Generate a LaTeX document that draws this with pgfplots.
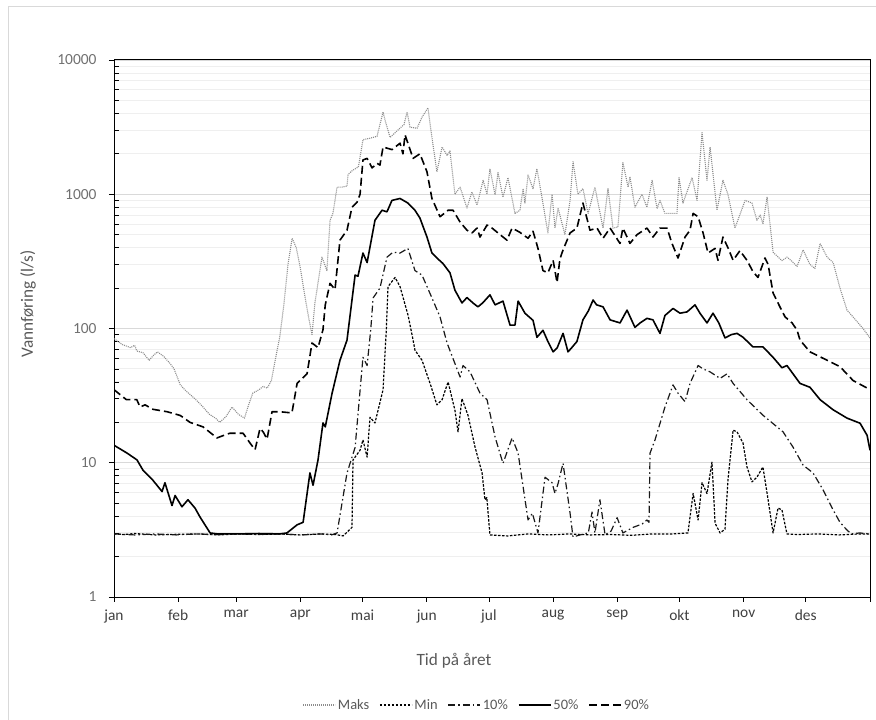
\documentclass[border=0pt]{standalone}
\usepackage{pgfplots}
\pgfplotsset{compat=1.18}
\usepackage{fontspec}
\setmainfont{Carlito}

\definecolor{ylabgray}{HTML}{707070}
\definecolor{xlabgray}{HTML}{404040}
\definecolor{titlegray}{HTML}{595959}
\definecolor{majgrid}{HTML}{D9D9D9}
\definecolor{mingrid}{HTML}{EFEFEF}
\definecolor{framegray}{HTML}{D9D9D9}
\definecolor{maksgray}{HTML}{8C8C8C}

\begin{document}
\begin{tikzpicture}
\begin{axis}[
  at={(114bp,123bp)}, anchor=south west,
  scale only axis, width=756bp, height=537bp,
  ymode=log, log basis y=10,
  ymin=1, ymax=10000, xmin=0, xmax=365,
  xtick={0,31,59,90,120,151,181,212,243,273,304,334,365},
  xticklabels={jan,feb,mar,apr,mai,jun,jul,aug,sep,okt,nov,des,{}},
  ytick={1,10,100,1000,10000},
  yticklabels={1,10,100,1000,10000},
  minor ytick={2,3,...,9,20,30,...,90,200,300,...,900,2000,3000,...,9000},
  xtick pos=left, ytick pos=left,
  tick align=outside,
  major tick length=5bp, minor tick length=4.5bp,
  tick style={black, line width=0.75bp},
  minor y tick style={xshift=4.5bp},
  ymajorgrids, yminorgrids,
  major grid style={majgrid, line width=0.9bp},
  minor grid style={mingrid, line width=0.9bp},
  axis line style={black, line width=1bp},
  yticklabel style={font=\fontsize{15.5}{18}\selectfont, text=ylabgray, xshift=-9bp},
  xticklabel style={font=\fontsize{15.5}{18}\selectfont, text=xlabgray, yshift=-4bp},
  xlabel={Tid på året},
  ylabel={Vannføring (l/s)},
  xlabel style={at={(axis description cs:0.4497,-0.118)}, anchor=center,
    font=\fontsize{17.3}{20}\selectfont, text=titlegray},
  ylabel style={at={(axis description cs:-0.1138,0.5456)}, anchor=center,
    font=\fontsize{17.3}{20}\selectfont, text=titlegray},
  legend columns=5,
  legend image code/.code={\draw[#1] (0bp,0bp) -- (32bp,0bp);},
  legend style={at={(0.48,-0.2011)}, anchor=center, draw=none, fill=none,
    font=\fontsize{14.5}{17}\selectfont, text=titlegray, inner sep=0pt,
    /tikz/every even column/.append style={column sep=8bp}},
  every axis plot/.append style={line join=round},
]

% Maks
\addplot[draw=maksgray, line width=1.1bp, dash pattern=on 1bp off 1bp] coordinates {
(0,84) (4,76) (8,72) (10,75) (11,68) (14,66) (17,58) (19,63) (21,67) (24,62)
(27,55) (29,50) (32,38) (35,34) (38,31) (40,29) (43,26) (46,23) (49,21.5) (51,20)
(54,22) (57,26) (60,23) (63,21.5) (65,27) (67,33) (70,35) (72,37) (74,36) (76,41)
(78,60) (80,86) (82,150) (84,300) (86,470) (88,400) (90,280) (92,180) (94,120) (95.6,90)
(97,155) (100.4,340) (102.8,270) (104.3,640) (105.7,720) (107.7,1130) (110,1130) (112.5,1150)
(113,1400) (115,1500) (118,1600) (120.2,2550) (123,2600) (127,2700) (129.9,4100) (131,3500)
(133.3,2650) (136,2900) (138,3100) (140,3300) (141.5,4100) (142.9,3160) (146.3,3100)
(148.7,3750) (151.6,4400) (153,3000) (155.9,1470) (158.4,2250) (160.8,1950) (162.2,2100)
(164.6,1000) (167.1,1130) (170.4,790) (172.8,1040) (175.3,830) (178.2,1270) (180.1,1000)
(181.5,1550) (184,990) (185.4,1450) (187.8,950) (190.2,1330) (193.6,720) (196,760)
(197.5,1100) (198.4,860) (199.9,1390) (202.3,1100) (204.2,1550) (206.6,950) (209.5,515)
(211.5,1000) (212.9,560) (214.4,790) (217.7,500) (220.2,900) (221.6,1750) (224,1000)
(226.4,1100) (228.9,720) (232.2,1130) (236.1,560) (238.5,1100) (240.9,560) (243.3,570)
(245.7,1720) (248.2,1130) (249.1,1350) (251.5,800) (254.9,1000) (257.3,800) (259.8,1270)
(262.2,780) (263.6,900) (266,720) (271.8,720) (272.8,1330) (274.7,860) (276.7,1050)
(279.1,1330) (281.5,900) (283.9,2880) (286.3,1270) (287.8,2250) (291.1,760) (294,1270)
(296.4,1000) (299.8,560) (304.7,900) (308,860) (310.4,640) (312,700) (313.3,600)
(315.3,950) (318.2,370) (322.5,320) (324.9,340) (327,320) (329.8,290) (332.7,385)
(336,300) (338.4,280) (340.9,430) (344.3,340) (347.2,310) (350.5,200) (353.9,137)
(356.8,122) (361.6,100) (365,85)
};
\addlegendentry{Maks}

% Min
\addplot[black, line width=1.2bp, dash pattern=on 2.5bp off 1.5bp] coordinates {
(0,2.95) (5,2.92) (10,2.97) (20,2.9) (30,2.93) (40,2.95) (50,2.9) (60,2.95) (70,2.92)
(80,2.95) (90,2.9) (100,2.95) (107,2.92) (110.6,2.85) (114.9,3.3) (115.4,10.5) (118.8,12.4)
(120.2,14.8) (122.2,11) (123.6,21.8) (126,19.8) (129.9,35) (131.5,100) (132.3,205)
(135.7,240) (138.1,205) (142,125) (144.4,82) (145.3,69) (148.7,58) (152.6,39) (155.9,27)
(158.4,29.5) (161.3,40) (164.6,24.6) (166.1,17) (168,30) (170.9,22.6) (174.3,13.1)
(177.7,8.4) (179.1,5.3) (180,5.5) (181.5,2.9) (190,2.85) (200,2.95) (210,2.9) (220,2.95)
(230,2.9) (240,2.92) (250,2.88) (260,2.95) (270,2.95) (277.1,3.0) (279.6,5.9) (282,3.75)
(283.9,7.1) (286.3,5.9) (288.7,10.1) (290.2,3.55) (292.6,3.0) (295,3.2) (296.4,7.4)
(298.9,17.5) (300.8,17) (303.7,14) (305.6,9.3) (308,7.2) (310.4,7.8) (313.3,9.3)
(315.8,5.3) (318.2,3.0) (320.6,4.6) (322.5,4.45) (324.9,2.95) (330,2.92) (340,2.95)
(350,2.9) (360,2.95) (365,2.95)
};
\addlegendentry{Min}

% 10 %
\addplot[black!90, line width=1.2bp, dash pattern=on 7bp off 3bp on 1.5bp off 3bp] coordinates {
(0,2.95) (10,2.9) (20,2.95) (30,2.9) (40,2.95) (50,2.92) (60,2.95) (70,2.93) (80,2.95)
(90,2.9) (100,2.95) (105,2.9) (107.7,3.0) (112.5,8.4) (116.4,13) (120.2,61) (122.2,53)
(124,100) (125.1,169) (128.4,200) (131.8,340) (134.7,370) (138.1,365) (141.9,395)
(145.3,270) (148.7,250) (153.5,169) (157.4,122) (160.8,78) (167.1,43.5) (168.5,53)
(171.9,47.5) (176.7,33) (180.1,29.5) (184,15.5) (187.8,9.9) (192.2,15.3) (195.1,11.8)
(199.9,3.75) (202,4.2) (204.7,3.0) (208.1,7.8) (211.5,7.1) (212.9,5.9) (214.4,7)
(216.8,9.9) (220.2,4.2) (221.6,2.8) (225,2.9) (229,3.0) (230.8,4.3) (232.2,3.0)
(234.6,5.3) (237.1,2.9) (240,3.1) (242.9,3.9) (245.7,3.0) (250.6,3.3) (255,3.5)
(257.3,3.75) (258.3,3.6) (258.8,11.8) (261.2,14.8) (266,26) (269.9,38) (272.3,33)
(275.7,28.5) (278.1,39) (282,53) (284.4,50) (287.8,47.5) (292.6,42.5) (296,46)
(298.9,39) (305.6,29.5) (313.3,22.6) (323,17) (327.8,13.1) (332.7,9.6) (337.5,8.4)
(342.3,6.3) (347.2,4.45) (350.5,3.6) (353.9,3.15) (356,2.95) (360,3.0) (365,2.95)
};
\addlegendentry{10\%}

% 50 %
\addplot[black, line width=1.6bp] coordinates {
(0,13.5) (6.3,11.8) (11.1,10.5) (14,8.8) (18.8,7.4) (23.2,6.1) (24.6,7.1) (28,4.8)
(29.5,5.7) (32.8,4.7) (35.7,5.3) (39.1,4.6) (41.5,3.95) (46.4,3.0) (50,2.95) (60,2.95)
(70,2.97) (80,2.95) (83.5,3.0) (88.4,3.45) (91.3,3.6) (94.6,8.4) (96.1,6.8) (98.5,10.5)
(100.9,19.8) (102,18.5) (105.3,33) (109.1,58) (112.5,82) (114.9,163) (116.4,250)
(117.8,245) (120.2,365) (122.2,310) (123.6,405) (126,640) (129.4,760) (131.8,740)
(134.2,900) (138.1,930) (141.9,860) (145.3,760) (147.7,665) (151.1,480) (153.5,365)
(155.9,335) (158.8,305) (162.2,260) (164.6,193) (168,155) (170.4,170) (173.3,155)
(175.7,145) (178,155) (181.5,178) (184,150) (187.8,160) (191.2,106) (193.6,106)
(195.1,160) (198.4,130) (202.3,115) (204.2,86) (207.1,97) (209.5,80) (212,67) (214,72)
(216.8,92) (219.2,67) (221,72) (223.5,80) (226.4,116) (229,135) (231.3,163) (233,150)
(236.1,145) (239.5,116) (244.3,110) (247.7,137) (251.5,102) (254,110) (257.3,119)
(260.2,116) (263.6,92) (266,125) (269.9,141) (273.3,130) (276.7,133) (280.5,150)
(282.9,130) (286.3,110) (289.2,130) (292,110) (295,85) (298,90) (300.8,92) (303.7,86)
(308.5,73) (313.3,73) (318.2,61) (322.5,51) (324.9,53) (331.2,39) (336,36.5)
(340.9,29.5) (347.2,24.8) (353.9,21.5) (360.2,19.7) (363.6,16) (365,12.4)
};
\addlegendentry{50\%}

% 90 %
\addplot[black, line width=1.6bp, dash pattern=on 8bp off 4bp] coordinates {
(0,35) (6,29.5) (11,29.5) (12.6,26) (15,27) (18.8,25) (25.6,24) (32,22.5) (36.7,20)
(43,18.5) (49.7,15.3) (53,16) (56,16.6) (62.3,16.6) (65.7,14) (68.1,12.5) (70.5,18)
(72,17) (73.9,15) (76.3,24) (80,24) (85.9,23.5) (88.4,39) (93.2,46) (95.6,78) (98.5,72)
(100.9,98) (102,150) (104.3,217) (106.7,195) (109.1,455) (112.5,540) (114.9,800)
(117.3,870) (118.8,1000) (120.2,1800) (122.2,1850) (124.6,1570) (127,1700) (128.4,1650)
(129.9,2250) (134.2,2150) (138.1,2400) (139.5,2000) (140.5,2770) (141.5,2500)
(144.4,1850) (147.7,2000) (151.1,1470) (153.5,930) (157.4,680) (161.3,760) (163.7,760)
(167.1,620) (170.4,540) (172.8,515) (175.3,560) (176.7,480) (180.1,590) (182.5,560)
(186.4,500) (189.7,455) (192.2,560) (196,520) (199.9,470) (202.3,530) (204.7,395)
(207.1,270) (209.5,260) (212,322) (213.9,220) (215.3,330) (216.8,385) (220.2,515)
(223.5,560) (226.4,860) (229.8,540) (233.2,560) (236.1,470) (239.5,560) (244.3,430)
(245.7,560) (249.1,430) (252.5,500) (257.3,560) (260.2,480) (263.6,560) (267,560)
(269.4,430) (272.3,335) (275.7,480) (278.1,540) (279.6,720) (282,680) (284.4,515)
(286.8,365) (290.2,395) (291.6,322) (294,480) (296.4,400) (298.9,322) (302.2,380)
(305.6,322) (308.5,265) (310.9,240) (314.3,335) (315.8,300) (318.2,184) (321.6,144)
(324,122) (327.4,110) (329.8,97) (331.2,82) (336,67) (344.3,58) (350.5,52) (356.8,41)
(363.6,36) (365,35)
};
\addlegendentry{90\%}

\end{axis}
% chart area frame
\draw[framegray, line width=1bp] (8bp,-20bp) rectangle (900bp,713bp);
\pgfresetboundingbox
\useasboundingbox (0bp,0bp) rectangle (876bp,720bp);
\end{tikzpicture}
\end{document}
